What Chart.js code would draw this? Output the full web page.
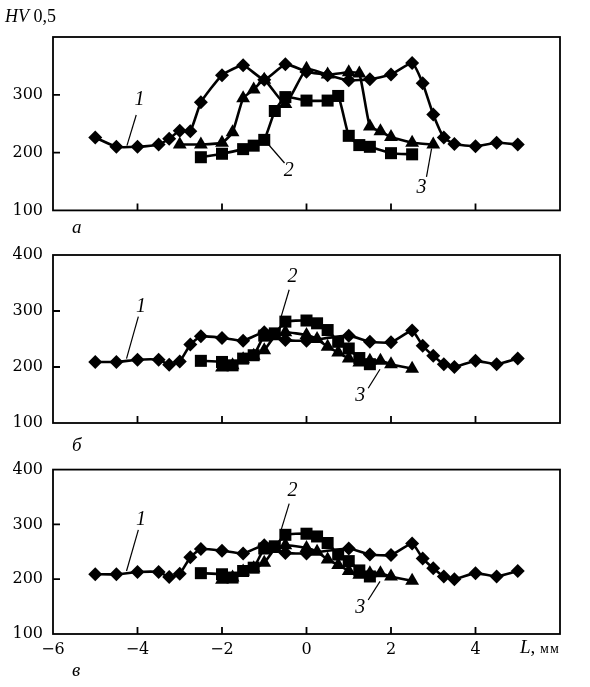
<!DOCTYPE html>
<html>
<head>
<meta charset="utf-8">
<script src="https://cdn.jsdelivr.net/npm/chart.js@4.4.0/dist/chart.umd.min.js"></script>
<style>
  body { margin: 0; background: #fff; }
  #wrap { position: relative; width: 590px; height: 687px; overflow: hidden; background: #fff; }
  canvas { position: absolute; left: 0; }
  .t { position: absolute; font-family: "Liberation Serif", serif; color: #000; white-space: nowrap; line-height: 1; }
  .lt { font-size: 19px; font-style: italic; }
</style>
</head>
<body>
<div id="wrap">
  <canvas id="chartA" width="590" height="230" style="top:0"></canvas>
  <canvas id="chartB" width="590" height="220" style="top:230px"></canvas>
  <canvas id="chartC" width="590" height="237" style="top:450px"></canvas>
  <div class="t" style="left:5px;top:7px;font-size:18px"><i>HV</i>&nbsp;0,5</div>
  <div class="t lt" style="left:72px;top:217px">а</div>
  <div class="t lt" style="left:72px;top:435px">б</div>
  <div class="t lt" style="left:72px;top:660px">в</div>
  <div class="t" style="left:520px;top:637px;font-size:19px"><i>L</i>, <span style="font-size:14px;letter-spacing:1px">мм</span></div>
</div>
<script>
// panel а
const xA1 = [-5, -4.5, -4, -3.5, -3.25, -3, -2.75, -2.5, -2, -1.5, -1, -0.5, 0, 0.5, 1, 1.5, 2, 2.5, 2.75, 3, 3.25, 3.5, 4, 4.5, 5];
const yA1 = [226, 210, 210, 214, 224, 238, 237, 287, 334, 351, 326, 353, 340, 334, 325, 327, 335, 355, 320, 266, 226, 215, 211, 217, 214];
const xA2 = [-2.5, -2, -1.5, -1.25, -1, -0.75, -0.5, 0, 0.5, 0.75, 1, 1.25, 1.5, 2, 2.5];
const yA2 = [192, 198, 206, 212, 222, 272, 296, 290, 290, 298, 229, 213, 210, 199, 197];
const xA3 = [-3, -2.5, -2, -1.75, -1.5, -1.25, -1, -0.5, 0, 0.5, 1, 1.25, 1.5, 1.75, 2, 2.5, 3];
const yA3 = [214, 214, 217, 235, 294, 309, 326, 284, 345, 335, 339, 337, 245, 237, 227, 217, 214];

// panel б (panel в in the figure shows the same curves)
const xB1 = [-5, -4.5, -4, -3.5, -3.25, -3, -2.75, -2.5, -2, -1.5, -1, -0.5, 0, 1, 1.5, 2, 2.5, 2.75, 3, 3.25, 3.5, 4, 4.5, 5];
const yB1 = [209, 209, 213, 213, 204, 210, 240, 255, 252, 247, 262, 248, 247, 256, 245, 244, 265, 238, 220, 205, 200, 211, 205, 215];
const xB2 = [-2.5, -2, -1.75, -1.5, -1.25, -1, -0.75, -0.5, 0, 0.25, 0.5, 0.75, 1, 1.25, 1.5];
const yB2 = [211, 209, 203, 215, 221, 256, 260, 281, 283, 278, 266, 245, 233, 216, 205];
const xB3 = [-2, -1.75, -1.5, -1.25, -1, -0.75, -0.5, 0, 0.25, 0.5, 0.75, 1, 1.25, 1.5, 1.75, 2, 2.5];
const yB3 = [199, 203, 214, 220, 230, 255, 262, 257, 250, 236, 226, 215, 208, 211, 211, 205, 197];

// curve numbers: text position, leader line start, leader line end (data units)
const notesA = [
  { t: '1', at: [-3.95, 292], from: [-4.03, 265], to: [-4.25, 212] },
  { t: '2', at: [-0.42, 168], from: [-0.9, 214], to: [-0.52, 182] },
  { t: '3', at: [2.72, 140], from: [2.96, 207], to: [2.84, 158] }
];
const notesB = [
  { t: '1', at: [-3.92, 308], from: [-3.98, 290], to: [-4.26, 215] },
  { t: '2', at: [-0.33, 362], from: [-0.41, 338], to: [-0.6, 290] },
  { t: '3', at: [1.27, 148], from: [1.74, 196], to: [1.46, 162] }
];

function pts(xs, ys) {
  return xs.map((x, i) => ({ x: x, y: ys[i] }));
}

const framePlugin = {
  id: 'frame',
  afterDraw(chart, args, opts) {
    const ctx = chart.ctx;
    const a = chart.chartArea;
    const x = chart.scales.x;
    const y = chart.scales.y;
    ctx.save();
    ctx.strokeStyle = '#000';
    ctx.lineWidth = 1.8;
    ctx.strokeRect(a.left, a.top, a.right - a.left, a.bottom - a.top);
    ctx.beginPath();
    x.ticks.forEach(t => {
      if (t.value > x.min && t.value < x.max) {
        const px = x.getPixelForValue(t.value);
        ctx.moveTo(px, a.bottom);
        ctx.lineTo(px, a.bottom - 7);
      }
    });
    y.ticks.forEach(t => {
      if (t.value > y.min && t.value < y.max) {
        const py = y.getPixelForValue(t.value);
        ctx.moveTo(a.left, py);
        ctx.lineTo(a.left + 7, py);
      }
    });
    ctx.stroke();

    ctx.lineWidth = 1.2;
    ctx.fillStyle = '#000';
    ctx.font = 'italic 20px "Liberation Serif"';
    ctx.textAlign = 'center';
    ctx.textBaseline = 'middle';
    (opts.notes || []).forEach(n => {
      ctx.beginPath();
      ctx.moveTo(x.getPixelForValue(n.from[0]), y.getPixelForValue(n.from[1]));
      ctx.lineTo(x.getPixelForValue(n.to[0]), y.getPixelForValue(n.to[1]));
      ctx.stroke();
      ctx.fillText(n.t, x.getPixelForValue(n.at[0]), y.getPixelForValue(n.at[1]));
    });
    ctx.restore();
  }
};

function series(data, style, radius) {
  return {
    data: data,
    borderColor: '#000',
    backgroundColor: '#000',
    borderWidth: 2.6,
    pointStyle: style,
    pointRadius: radius,
    pointBackgroundColor: '#000',
    pointBorderColor: '#000',
    pointBorderWidth: 0,
    tension: 0.15,
    clip: false
  };
}

function makeChart(id, sets, notes, cfg) {
  new Chart(document.getElementById(id), {
    type: 'line',
    data: {
      datasets: [
        series(pts(sets[0][0], sets[0][1]), 'rectRot', 7),
        series(pts(sets[1][0], sets[1][1]), 'rect', 8.5),
        series(pts(sets[2][0], sets[2][1]), 'triangle', 8)
      ]
    },
    options: {
      responsive: false,
      animation: false,
      devicePixelRatio: 1,
      layout: { padding: { top: cfg.top, right: 30, left: 0, bottom: 0 } },
      plugins: {
        legend: { display: false },
        tooltip: { enabled: false },
        frame: { notes: notes }
      },
      scales: {
        x: {
          type: 'linear',
          min: -6,
          max: 6,
          grid: { display: false, drawTicks: false },
          border: { display: false },
          ticks: {
            display: cfg.xLabels,
            stepSize: 2,
            padding: 6,
            color: '#000',
            font: { family: 'DejaVu Serif', size: 16 },
            callback: v => (v === 6 ? '' : (v < 0 ? '\u2212' + Math.abs(v) : String(v)))
          },
          afterFit: s => { s.height = cfg.bottom; }
        },
        y: {
          min: 100,
          max: 400,
          grid: { display: false, drawTicks: false },
          border: { display: false },
          ticks: {
            stepSize: 100,
            padding: 10,
            color: '#000',
            font: { family: 'DejaVu Serif', size: 16 },
            callback: v => (cfg.hideTop && v === 400 ? '' : String(v))
          },
          afterFit: s => { s.width = 53; }
        }
      }
    },
    plugins: [framePlugin]
  });
}

makeChart('chartA', [[xA1, yA1], [xA2, yA2], [xA3, yA3]], notesA,
  { top: 37, bottom: 17, xLabels: false, hideTop: true });
makeChart('chartB', [[xB1, yB1], [xB2, yB2], [xB3, yB3]], notesB,
  { top: 25, bottom: 27, xLabels: false, hideTop: false });
makeChart('chartC', [[xB1, yB1], [xB2, yB2], [xB3, yB3]], notesB,
  { top: 14, bottom: 53, xLabels: true, hideTop: false });
</script>
</body>
</html>
